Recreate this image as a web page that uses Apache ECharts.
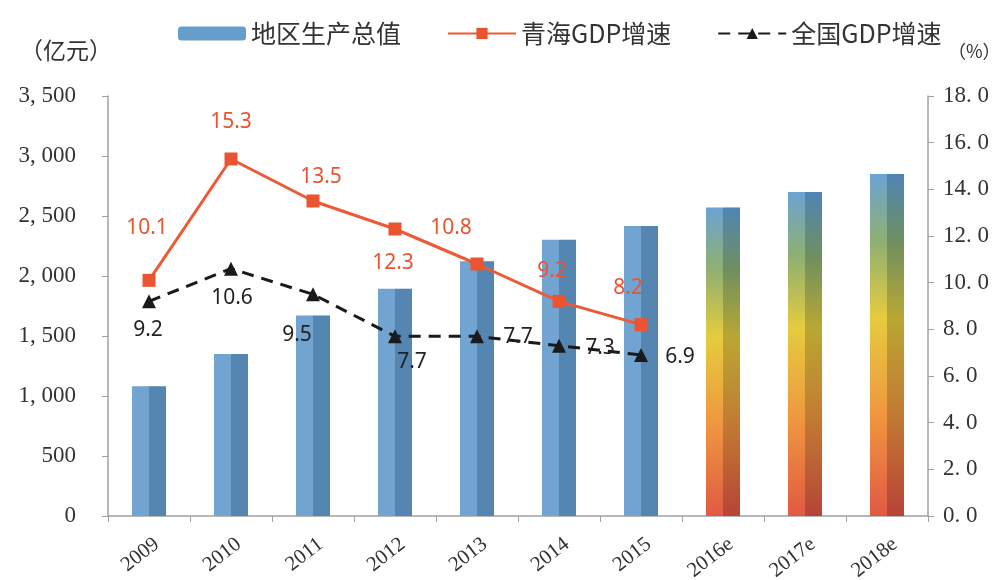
<!DOCTYPE html>
<html>
<head>
<meta charset="utf-8">
<script src="https://cdn.jsdelivr.net/npm/echarts@6/dist/echarts.min.js"></script>
<style>
  html, body { margin: 0; padding: 0; background: #fff; }
  #main { width: 1004px; height: 580px; }
</style>
</head>
<body>
<div id="main"></div>
<script>
// 数据
const years = ['2009', '2010', '2011', '2012', '2013', '2014', '2015', '2016e', '2017e', '2018e']
const gdpValue = [1081, 1350, 1670, 1894, 2122, 2303, 2417, 2570, 2700, 2850]
const qhGrowth = [10.1, 15.3, 13.5, 12.3, 10.8, 9.2, 8.2]
const cnGrowth = [9.2, 10.6, 9.5, 7.7, 7.7, 7.3, 6.9]

// label offsets (px from the point), layout only
const qhOffset = [[-2, -52], [0, -37], [8, -24], [-2, 34], [-26, -36], [-7, -30], [-13, -37]]
const cnOffset = [[-1, 29], [1, 29], [-16, 41], [17, 26], [41, 1], [41, 2], [39, 2]]

const forecastColor = new echarts.graphic.LinearGradient(0, 0, 0, 1, [
  { offset: 0, color: '#5f9bd0' },
  { offset: 0.2, color: '#86a965' },
  { offset: 0.42, color: '#e3c72e' },
  { offset: 0.7, color: '#ee8f2f' },
  { offset: 1, color: '#df4b33' }
])
const blueColor = '#659dcc'

let myChart = echarts.init(document.getElementById('main'))

myChart.setOption({
  backgroundColor: '#fff',
  animation: false,
  grid: {
    left: 108,
    right: 76,
    top: 96,
    bottom: 64,
    outerBoundsMode: 'none'
  },
  legend: {
    top: 16,
    left: 173,
    itemWidth: 68,
    itemHeight: 14,
    itemGap: 46,
    data: ['地区生产总值', '青海GDP增速', '全国GDP增速'],
    textStyle: {
      fontFamily: 'Noto Sans CJK SC',
      fontSize: 25,
      color: '#333'
    }
  },
  xAxis: {
    type: 'category',
    data: years,
    axisLine: { lineStyle: { color: '#a0a0a0', width: 1.5 } },
    axisTick: { show: true, length: 6, lineStyle: { color: '#a0a0a0' } },
    axisLabel: {
      rotate: 38,
      margin: 32,
      padding: [0, -10, 0, 0],
      color: '#333',
      fontFamily: 'Liberation Serif',
      fontSize: 21
    }
  },
  yAxis: [
    {
      type: 'value',
      min: 0,
      max: 3500,
      interval: 500,
      name: '（亿元）',
      nameGap: 34,
      nameTextStyle: {
        fontFamily: 'Noto Sans CJK SC',
        fontSize: 23,
        color: '#333',
        align: 'right',
        padding: [0, -4, 0, 0]
      },
      splitLine: { show: false },
      axisLine: { show: true, lineStyle: { color: '#a0a0a0', width: 1.5 } },
      axisTick: { show: true, length: 6, lineStyle: { color: '#a0a0a0' } },
      axisLabel: {
        margin: 32,
        color: '#333',
        fontFamily: 'Liberation Serif',
        fontSize: 23,
        formatter: function (v) {
          return v >= 1000 ? Math.floor(v / 1000) + ', ' + String(v % 1000).padStart(3, '0') : String(v)
        }
      }
    },
    {
      type: 'value',
      min: 0,
      max: 18,
      interval: 2,
      name: '（%）',
      nameGap: 36,
      nameTextStyle: {
        fontFamily: 'Noto Sans CJK SC',
        fontSize: 18,
        color: '#333',
        align: 'left',
        padding: [0, 0, 0, 20]
      },
      splitLine: { show: false },
      axisLine: { show: true, lineStyle: { color: '#a0a0a0', width: 1.5 } },
      axisTick: { show: true, length: 6, lineStyle: { color: '#a0a0a0' } },
      axisLabel: {
        margin: 15,
        color: '#333',
        fontFamily: 'Liberation Serif',
        fontSize: 23,
        formatter: function (v) {
          return v.toFixed(1).replace('.', '. ')
        }
      }
    }
  ],
  series: [
    {
      name: '地区生产总值',
      type: 'bar',
      barWidth: 34,
      itemStyle: { color: blueColor },
      data: gdpValue.map((v, i) => i < 7 ? v : { value: v, itemStyle: { color: forecastColor } })
    },
    {
      // right-side shading of each bar
      name: 'shade',
      type: 'bar',
      barWidth: 34,
      barGap: '-100%',
      silent: true,
      itemStyle: {
        color: new echarts.graphic.LinearGradient(0, 0, 1, 0, [
          { offset: 0, color: 'rgba(255,255,255,0.08)' },
          { offset: 0.5, color: 'rgba(255,255,255,0.08)' },
          { offset: 0.5, color: 'rgba(20,40,70,0.2)' },
          { offset: 1, color: 'rgba(20,40,70,0.2)' }
        ])
      },
      data: gdpValue
    },
    {
      name: '青海GDP增速',
      type: 'line',
      yAxisIndex: 1,
      symbol: 'rect',
      symbolSize: 13,
      itemStyle: { color: '#ea5430' },
      lineStyle: { color: '#ee5a35', width: 3 },
      label: {
        show: true,
        position: 'inside',
        color: '#ea5430',
        fontFamily: 'Noto Sans',
        fontSize: 21
      },
      data: qhGrowth.map((v, i) => ({ value: v, label: { offset: qhOffset[i] } }))
    },
    {
      name: '全国GDP增速',
      type: 'line',
      yAxisIndex: 1,
      symbol: 'triangle',
      symbolSize: 14,
      itemStyle: { color: '#1a1a1a' },
      lineStyle: { color: '#1a1a1a', width: 3, type: [12, 8] },
      label: {
        show: true,
        position: 'inside',
        color: '#222',
        fontFamily: 'Noto Sans',
        fontSize: 21
      },
      data: cnGrowth.map((v, i) => ({ value: v, label: { offset: cnOffset[i] } }))
    }
  ]
})
window.addEventListener('resize', () => {
  myChart.resize()
})
</script>
</body>
</html>
